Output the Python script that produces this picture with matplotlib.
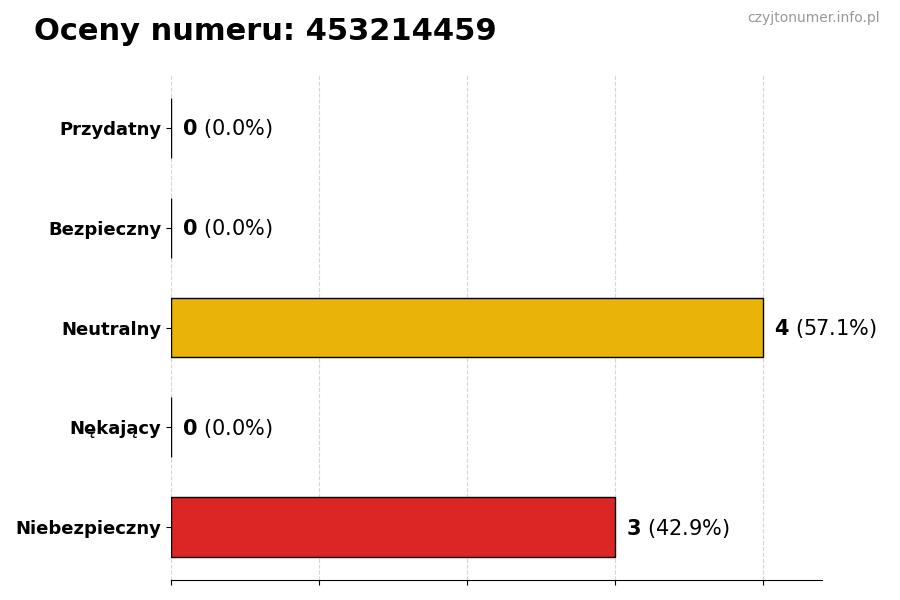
import matplotlib
matplotlib.use("Agg")
import matplotlib.pyplot as plt

categories = ["Przydatny", "Bezpieczny", "Neutralny", "Nękający", "Niebezpieczny"]
counts = [0, 0, 4, 0, 3]
colors = ["#22C55E", "#16A34A", "#EAB308", "#F97316", "#DC2626"]
title = "Oceny numeru: 453214459"
watermark = "czyjtonumer.info.pl"

total = sum(counts)
fig = plt.figure(figsize=(9, 6), dpi=100)
ax = fig.add_axes([0.19, 0.0333, 0.723, 0.8417])

ypos = list(range(len(categories)))[::-1]
ax.barh(ypos, counts, height=0.6, color=colors, edgecolor="black", linewidth=1, zorder=3)
ax.set_yticks(ypos)
ax.set_yticklabels(categories, fontsize=13, fontweight="bold")
ax.set_xlim(0, max(counts) * 1.1)
ax.set_xticks(range(0, max(counts) + 1))
ax.set_xticklabels([])
ax.grid(axis="x", linestyle="--", color="#cccccc", alpha=0.8, zorder=0)
ax.set_axisbelow(True)
for s in ["top", "right", "left"]:
    ax.spines[s].set_visible(False)

for y, c in zip(ypos, counts):
    pct = 100.0 * c / total if total else 0.0
    ax.text(c + 0.075, y - 0.01, r"$\mathbf{%d}$ (%.1f%%)" % (c, pct), va="center", ha="left", fontsize=15)

fig.text(0.038, 0.947, title, fontsize=22, fontweight="bold", ha="left", va="center")
fig.text(0.978, 0.97, watermark, fontsize=10, color="#999999", ha="right", va="center")

fig.savefig("out.png", dpi=100)
